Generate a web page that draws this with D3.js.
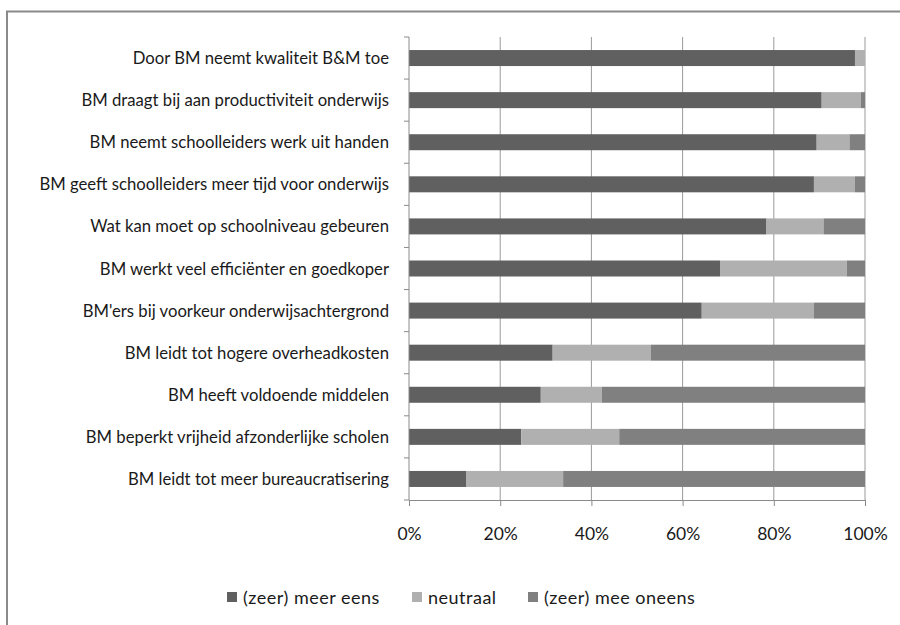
<!DOCTYPE html>
<html>
<head>
<meta charset="utf-8">
<script src="https://cdn.jsdelivr.net/npm/d3@7"></script>
<style>
  html, body { margin: 0; padding: 0; background: #fff; }
  svg { display: block; }
  text { font-family: Lato, "Liberation Sans", Arial, sans-serif; fill: #1a1a1a; }
</style>
</head>
<body>
<svg id="chart" width="900" height="625"></svg>
<script>
const categories = [
  "Door BM neemt kwaliteit B&M toe",
  "BM draagt bij aan productiviteit onderwijs",
  "BM neemt schoolleiders werk uit handen",
  "BM geeft schoolleiders meer tijd voor onderwijs",
  "Wat kan moet op schoolniveau gebeuren",
  "BM werkt veel efficiënter en goedkoper",
  "BM'ers bij voorkeur onderwijsachtergrond",
  "BM leidt tot hogere overheadkosten",
  "BM heeft voldoende middelen",
  "BM beperkt vrijheid afzonderlijke scholen",
  "BM leidt tot meer bureaucratisering"
];
const seriesNames = ["(zeer) meer eens", "neutraal", "(zeer) mee oneens"];
const eens    = [97.8, 90.5, 89.4, 88.8, 78.4, 68.2, 64.2, 31.5, 28.9, 24.6, 12.5];
const neutraal= [ 2.2,  8.6,  7.2,  9.0, 12.5, 27.8, 24.6, 21.5, 13.4, 21.5, 21.3];
const oneens  = [ 0.0,  0.9,  3.4,  2.2,  9.1,  4.0, 11.2, 47.0, 57.7, 53.9, 66.2];
const tickValues = [0, 20, 40, 60, 80, 100];
const colors = ["#606060", "#b0b0b0", "#808080"];

const rows = categories.map((c, i) => ({cat: c, s0: eens[i], s1: neutraal[i], s2: oneens[i]}));
const stack = d3.stack().keys(["s0", "s1", "s2"])(rows);

const svg = d3.select("#chart");
const m = {left: 409, right: 865, top: 37, bottom: 500};

// outer frame
svg.append("rect").attr("x", 7).attr("y", 11.5).attr("width", 1000).attr("height", 1000)
  .attr("fill", "none").attr("stroke", "#8a8a8a").attr("stroke-width", 2);

const x = d3.scaleLinear().domain([0, 100]).range([m.left, m.right]);
const y = d3.scaleBand().domain(categories).range([m.top, m.bottom]).paddingInner(0.62).paddingOuter(0.31);
const yb = d3.scaleBand().domain(categories).range([m.top, m.bottom]);

// gridlines
svg.append("g").selectAll("line").data(tickValues.slice(1)).join("line")
  .attr("x1", d => x(d)).attr("x2", d => x(d))
  .attr("y1", m.top).attr("y2", m.bottom)
  .attr("stroke", "#9a9a9a").attr("stroke-width", 1);

// bars
svg.append("g").selectAll("g").data(stack).join("g")
  .attr("fill", (d, i) => colors[i])
  .selectAll("rect").data(d => d).join("rect")
  .attr("x", d => x(d[0]))
  .attr("width", d => x(d[1]) - x(d[0]))
  .attr("y", d => y(d.data.cat))
  .attr("height", y.bandwidth());

// x axis
const xAxis = d3.axisBottom(x).tickValues(tickValues).tickFormat(d => d + "%").tickSize(6).tickPadding(22);
const gx = svg.append("g").attr("transform", `translate(0,${m.bottom})`).call(xAxis);
gx.select(".domain").attr("stroke", "#8a8a8a");
gx.selectAll(".tick line").attr("stroke", "#8a8a8a");
gx.selectAll(".tick text").attr("font-size", 17.5).attr("font-family", "Lato, Liberation Sans, Arial, sans-serif").attr("fill", "#1a1a1a");

// y axis: line + ticks at band boundaries
svg.append("line").attr("x1", m.left).attr("x2", m.left).attr("y1", m.top).attr("y2", m.bottom)
  .attr("stroke", "#8a8a8a");
const bounds = categories.map(c => yb(c)).concat([m.bottom]);
svg.append("g").selectAll("line").data(bounds).join("line")
  .attr("x1", m.left - 5).attr("x2", m.left).attr("y1", d => d).attr("y2", d => d)
  .attr("stroke", "#8a8a8a");

// category labels
svg.append("g").selectAll("text").data(categories).join("text")
  .attr("x", 389).attr("y", d => yb(d) + yb.bandwidth() / 2)
  .attr("text-anchor", "end").attr("dominant-baseline", "central")
  .attr("font-size", 16.7).text(d => d);

// legend
const legendX = [227, 412, 528];
const lg = svg.append("g").selectAll("g").data(seriesNames).join("g")
  .attr("transform", (d, i) => `translate(${legendX[i]},597)`);
lg.append("rect").attr("x", 0).attr("y", -5).attr("width", 10).attr("height", 10).attr("fill", (d, i) => colors[i]);
lg.append("text").attr("x", 16).attr("y", 0).attr("dominant-baseline", "central")
  .attr("font-size", 18).attr("letter-spacing", 0.5).text(d => d);
</script>
</body>
</html>
